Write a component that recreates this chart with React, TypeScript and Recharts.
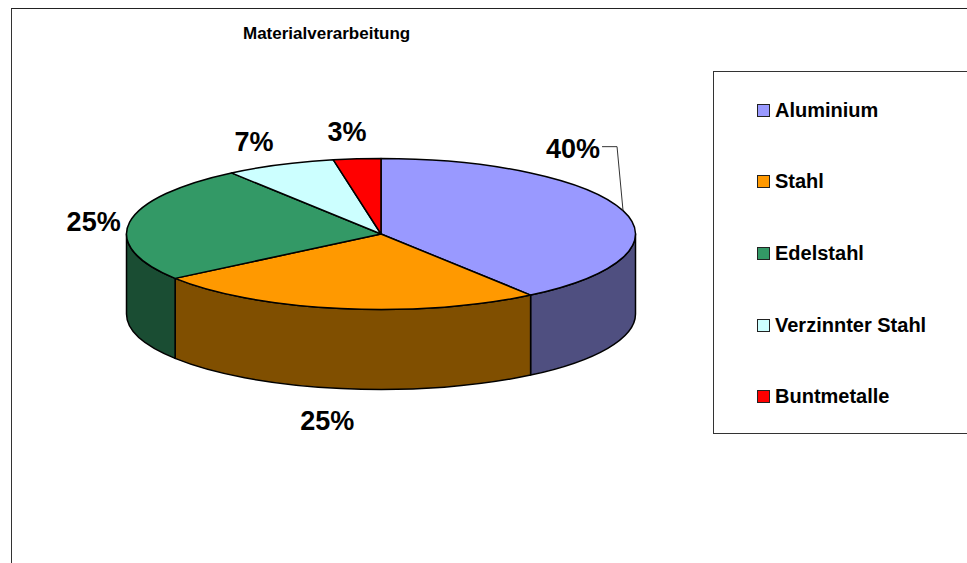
import React from 'react';
import { PieChart, Pie, Legend } from 'recharts';

const categories = ['Aluminium', 'Stahl', 'Edelstahl', 'Verzinnter Stahl', 'Buntmetalle'];
const shares = [40, 25, 25, 7, 3];
const topColors = ['#9999FF', '#FF9900', '#339966', '#CCFFFF', '#FF0000'];
const sideColors = ['#4F4F80', '#804F00', '#1A4D33', '#668080', '#800000'];

// label offset from the rim point at each slice's middle angle
const labelOffsetX = [-50, -14, -36, -26, -10];
const labelOffsetY = [-62, 112, 0, -23, -27];

const FONT = '"Liberation Sans", Arial, sans-serif';
const SQUASH = 75.5 / 254.5;
const DEPTH = 80;
const CX = 381;
const CY = 234;

const topData = categories.map((name, i) => ({ name, value: shares[i], fill: topColors[i] }));
const sideData = categories.map((name, i) => ({ name, value: shares[i], fill: sideColors[i] }));

const rimPoint = (cx: number, cy: number, r: number, deg: number) => {
  const a = (deg * Math.PI) / 180;
  return { x: cx + r * Math.cos(a), y: cy - r * SQUASH * Math.sin(a) };
};

// top face of a slice, a sector of the flattened circle
const TopSlice = ({ cx, cy, outerRadius, startAngle, endAngle, fill }: any) => {
  const p0 = rimPoint(cx, cy, outerRadius, startAngle);
  const p1 = rimPoint(cx, cy, outerRadius, endAngle);
  const large = Math.abs(startAngle - endAngle) > 180 ? 1 : 0;
  const d = `M${cx},${cy}L${p0.x},${p0.y}A${outerRadius},${outerRadius * SQUASH} 0 ${large} 1 ${p1.x},${p1.y}Z`;
  return <path d={d} fill={fill} stroke="#000" strokeWidth={1.5} strokeLinejoin="round" />;
};

// wall under a slice, only the part facing the viewer (angles -180..0)
const SideSlice = ({ cx, cy, outerRadius, startAngle, endAngle, fill }: any) => {
  const from = Math.min(startAngle, 0);
  const to = Math.max(endAngle, -180);
  if (from <= to) return <g />;
  const ry = outerRadius * SQUASH;
  const p0 = rimPoint(cx, cy, outerRadius, from);
  const p1 = rimPoint(cx, cy, outerRadius, to);
  const d =
    `M${p0.x},${p0.y}A${outerRadius},${ry} 0 0 1 ${p1.x},${p1.y}` +
    `L${p1.x},${p1.y + DEPTH}A${outerRadius},${ry} 0 0 0 ${p0.x},${p0.y + DEPTH}Z`;
  return <path d={d} fill={fill} stroke="#000" strokeWidth={1.5} strokeLinejoin="round" />;
};

const SliceLabel = ({ cx, cy, outerRadius, midAngle, index, value }: any) => {
  const rim = rimPoint(cx, cy, outerRadius, midAngle);
  const x = rim.x + labelOffsetX[index];
  const y = rim.y + labelOffsetY[index];
  return (
    <g>
      {index === 0 && (
        <polyline
          points={`${x + 29},${y - 2} ${x + 44},${y - 2} ${rim.x},${rim.y}`}
          fill="none"
          stroke="#333"
          strokeWidth={1}
        />
      )}
      <text
        x={x}
        y={y}
        textAnchor="middle"
        dominantBaseline="central"
        fontFamily={FONT}
        fontWeight="bold"
        fontSize={27}
        fill="#000"
      >
        {`${value}%`}
      </text>
    </g>
  );
};

const LegendBox = ({ payload }: any) => {
  const items = categories.map((name) =>
    (payload || []).find((entry: any) => entry.value === name && entry.type !== 'none'),
  );
  return (
    <div style={{ position: 'relative', width: 254, height: 363 }}>
      {items.map((entry: any, i: number) =>
        entry ? (
          <div
            key={entry.value}
            style={{
              position: 'absolute',
              left: 43,
              top: 38 + i * 71.7 - 12,
              height: 24,
              display: 'flex',
              alignItems: 'center',
              fontFamily: FONT,
              fontWeight: 'bold',
              fontSize: 20,
              color: '#000',
              whiteSpace: 'nowrap',
            }}
          >
            <span
              style={{
                display: 'inline-block',
                width: 11,
                height: 11,
                border: '1px solid #222',
                background: entry.color,
                marginRight: 5,
              }}
            />
            {entry.value}
          </div>
        ) : null,
      )}
    </div>
  );
};

export default function App() {
  return (
    <div style={{ position: 'absolute', left: 0, top: 0, width: 967, height: 563, overflow: 'hidden', background: '#fff' }}>
      <div
        style={{
          position: 'absolute',
          left: 11,
          top: 8,
          width: 1000,
          height: 600,
          borderLeft: '1px solid #333',
          borderTop: '1px solid #222',
        }}
      />
      <div
        style={{
          position: 'absolute',
          left: 243,
          top: 24,
          fontFamily: FONT,
          fontWeight: 'bold',
          fontSize: 17,
          color: '#000',
          whiteSpace: 'nowrap',
        }}
      >
        Materialverarbeitung
      </div>
      <div style={{ position: 'absolute', left: 0, top: 0 }}>
        <PieChart width={967} height={563} margin={{ top: 0, right: 0, bottom: 0, left: 0 }}>
          <Pie
            data={sideData}
            dataKey="value"
            nameKey="name"
            cx={CX}
            cy={CY}
            outerRadius={254.5}
            startAngle={90}
            endAngle={-270}
            legendType="none"
            shape={SideSlice}
            isAnimationActive={false}
          />
          <Pie
            data={topData}
            dataKey="value"
            nameKey="name"
            cx={CX}
            cy={CY}
            outerRadius={254.5}
            startAngle={90}
            endAngle={-270}
            shape={TopSlice}
            label={SliceLabel}
            labelLine={false}
            isAnimationActive={false}
          />
          <Legend
            content={LegendBox}
            layout="vertical"
            wrapperStyle={{
              position: 'absolute',
              left: 713,
              top: 71,
              width: 300,
              height: 363,
              border: '1px solid #333',
              background: '#fff',
              boxSizing: 'border-box',
            }}
          />
        </PieChart>
      </div>
    </div>
  );
}
